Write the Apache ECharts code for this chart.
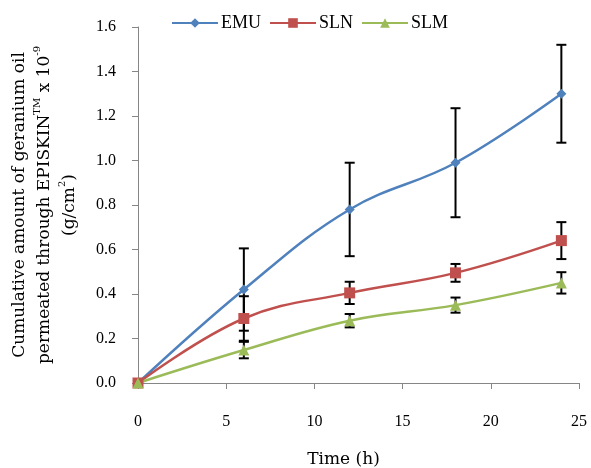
<!DOCTYPE html>
<html>
<head>
<meta charset="utf-8">
<script src="https://cdn.jsdelivr.net/npm/echarts@6/dist/echarts.min.js"></script>
<style>
html, body { margin: 0; padding: 0; background: #fff; }
#chart { width: 591px; height: 468px; }
</style>
</head>
<body>
<div id="chart"></div>
<script>
var times = [0, 6, 12, 18, 24];
var emu = [0, 0.42, 0.78, 0.99, 1.30];
var emuErr = [0, 0.185, 0.21, 0.245, 0.22];
var sln = [0, 0.29, 0.405, 0.495, 0.64];
var slnErr = [0, 0.10, 0.05, 0.04, 0.083];
var slm = [0, 0.148, 0.28, 0.35, 0.45];
var slmErr = [0, 0.037, 0.03, 0.034, 0.048];
var yTicks = ['0.0', '0.2', '0.4', '0.6', '0.8', '1.0', '1.2', '1.4', '1.6'];

var serif = '"Liberation Serif", "Times New Roman", serif';
// axis titles in the picture are set much wider than Times, DejaVu Serif fits their length
var wideSerif = '"DejaVu Serif", serif';
var chart = echarts.init(document.getElementById('chart'));

function pairs(vals) {
    var out = [];
    for (var i = 0; i < times.length; i++) {
        out.push([times[i], vals[i]]);
    }
    return out;
}

function errData(vals, errs) {
    var out = [];
    for (var i = 0; i < times.length; i++) {
        if (errs[i] > 0) {
            out.push([times[i], vals[i] - errs[i], vals[i] + errs[i]]);
        }
    }
    return out;
}

function drawErr(params, api) {
    var top = api.coord([api.value(0), api.value(2)]);
    var bot = api.coord([api.value(0), api.value(1)]);
    var w = 5;
    var st = { stroke: '#000', lineWidth: 2 };
    return {
        type: 'group',
        children: [
            { type: 'line', shape: { x1: top[0], y1: top[1], x2: bot[0], y2: bot[1] }, style: st },
            { type: 'line', shape: { x1: top[0] - w, y1: top[1], x2: top[0] + w, y2: top[1] }, style: st },
            { type: 'line', shape: { x1: bot[0] - w, y1: bot[1], x2: bot[0] + w, y2: bot[1] }, style: st }
        ]
    };
}

function lineSeries(name, vals, color, symbol, size) {
    return {
        name: name,
        type: 'line',
        data: pairs(vals),
        smooth: 0.4,
        symbol: symbol,
        symbolSize: size,
        z: 3,
        lineStyle: { color: color, width: 2.5 },
        itemStyle: { color: color },
        emphasis: { disabled: true }
    };
}

function errSeries(vals, errs) {
    return {
        type: 'custom',
        renderItem: drawErr,
        data: errData(vals, errs),
        z: 2,
        silent: true
    };
}

var option = {
    animation: false,
    backgroundColor: '#fff',
    grid: { left: 138, right: 12, top: 27, bottom: 85, containLabel: false, outerBoundsMode: 'none' },
    legend: {
        left: 166,
        top: 9,
        itemWidth: 46,
        itemHeight: 12,
        itemGap: 8,
        data: ['EMU', 'SLN', 'SLM'],
        textStyle: { fontFamily: serif, fontSize: 18, color: '#000', padding: [0, 0, 0, -2] }
    },
    xAxis: {
        type: 'value',
        min: 0,
        max: 25,
        interval: 5,
        name: 'Time (h)',
        nameLocation: 'middle',
        nameGap: 68,
        nameTextStyle: { fontFamily: wideSerif, fontSize: 17, color: '#000', padding: [0, 30, 0, 0] },
        axisLine: { lineStyle: { color: '#868686', width: 1 } },
        axisTick: { show: true, inside: false, length: 6, lineStyle: { color: '#868686' } },
        axisLabel: { fontFamily: serif, fontSize: 16, color: '#000', margin: 31 },
        splitLine: { show: false }
    },
    yAxis: {
        type: 'value',
        min: 0,
        max: 1.6,
        interval: 0.2,
        name: 'Cumulative amount of geranium oil\npermeated through EPISKIN{sup|TM} x 10{sup|-9}\n(g/cm{sup|2})',
        nameLocation: 'middle',
        nameRotate: 90,
        nameGap: 56,
        nameTextStyle: {
            fontFamily: wideSerif,
            fontSize: 17,
            color: '#000',
            lineHeight: 25,
            align: 'center',
            rich: {
                sup: { fontFamily: wideSerif, fontSize: 10, color: '#000', verticalAlign: 'top', lineHeight: 25, padding: [0, 0, 6, 0] }
            }
        },
        axisLine: { show: true, lineStyle: { color: '#868686', width: 1 } },
        axisTick: { show: true, inside: false, length: 6, lineStyle: { color: '#868686' } },
        axisLabel: {
            fontFamily: serif,
            fontSize: 16,
            color: '#000',
            margin: 22,
            formatter: function (v) { return yTicks[Math.round(v / 0.2)]; }
        },
        splitLine: { show: false }
    },
    series: [
        errSeries(emu, emuErr),
        errSeries(sln, slnErr),
        errSeries(slm, slmErr),
        lineSeries('EMU', emu, '#4F81BD', 'diamond', 10),
        lineSeries('SLN', sln, '#C0504D', 'rect', 11),
        lineSeries('SLM', slm, '#9BBB59', 'triangle', 11)
    ]
};

chart.setOption(option);
</script>
</body>
</html>
